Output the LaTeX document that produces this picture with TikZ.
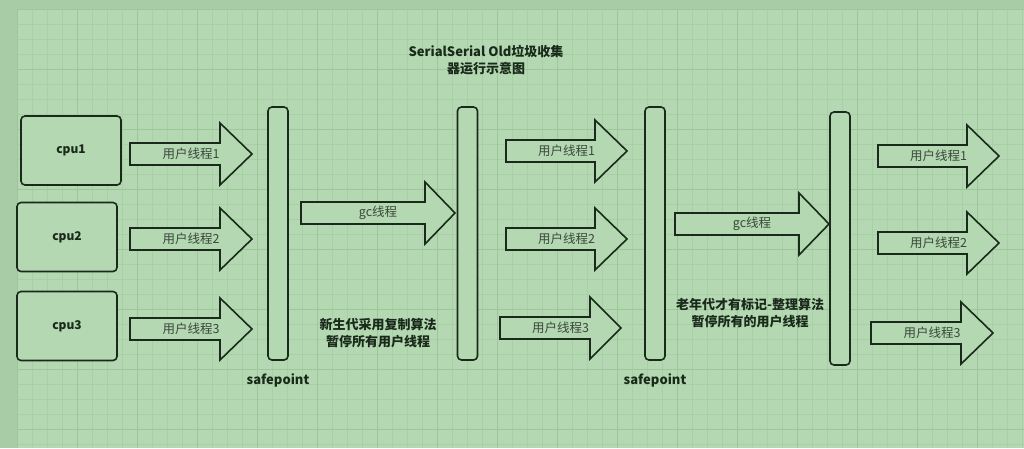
\documentclass[tikz,border=0pt]{standalone}
\usepackage{fontspec}
\setmainfont{Noto Sans CJK SC}
\usepackage{tikz}

\definecolor{outerbg}{RGB}{168,205,166}
\definecolor{bg}{RGB}{180,216,178}
\definecolor{gridminor}{RGB}{169,207,167}
\definecolor{gridmajor}{RGB}{157,198,155}
\definecolor{ink}{RGB}{26,42,26}
\definecolor{lbltext}{RGB}{58,72,58}

% block arrow: name, x start, x head, x tip, y centre, label
\newcommand{\blockarrow}[6]{%
  \draw[blk] (#2,#5-11) -- (#3,#5-11) -- (#3,#5-31) -- (#4,#5)
    -- (#3,#5+31) -- (#3,#5+11) -- (#2,#5+11) -- cycle;
  \node[lbl] (#1) at ({(#2+#4)/2},#5) {#6};}

\begin{document}
\begin{tikzpicture}[x=1pt, y=-1pt,
  blk/.style={draw=ink, line width=1.6pt, fill=bg, line join=miter},
  lbl/.style={text=lbltext, font=\fontsize{12.5}{14}\selectfont, inner sep=0pt},
  cpu/.style={draw=ink, line width=1.6pt, fill=bg, rounded corners=4pt,
    minimum width=100pt, minimum height=69pt, font=\fontsize{12}{14}\selectfont\bfseries, text=ink},
  bar/.style={draw=ink, line width=1.6pt, fill=bg, rounded corners=4pt,
    minimum width=20pt, minimum height=253pt, inner sep=0pt},
  note/.style={align=center, text=ink, font=\fontsize{13}{17}\selectfont\bfseries, inner sep=0pt}]
  \useasboundingbox (0,0) rectangle (1024,448);
  \fill[outerbg] (0,0) rectangle (1024,448);
  \fill[bg] (17,9) rectangle (1024,448);
  % grid
  \foreach \gx in {17,32,...,1024} \draw[gridminor, line width=0.7pt] (\gx,9) -- (\gx,448);
  \foreach \gy in {9,24,...,448} \draw[gridminor, line width=0.7pt] (17,\gy) -- (1024,\gy);
  \foreach \gx in {17,77,...,1024} \draw[gridmajor, line width=0.8pt] (\gx,9) -- (\gx,448);
  \foreach \gy in {9,69,...,448} \draw[gridmajor, line width=0.8pt] (17,\gy) -- (1024,\gy);

  \node[note] (title) at (486,60) {SerialSerial Old垃圾收集\\器运行示意图};

  \node[cpu] (cpu1) at (71,150.5) {cpu1};
  \node[cpu] (cpu2) at (67,237) {cpu2};
  \node[cpu] (cpu3) at (67,326) {cpu3};

  \blockarrow{ua1}{130}{220}{252}{154}{用户线程1}
  \blockarrow{ua2}{130}{220}{252}{239}{用户线程2}
  \blockarrow{ua3}{130}{220}{252}{329}{用户线程3}

  \node[bar] (sp1) at (278,233.5) {};
  \node[bar] (sp2) at (467.5,233.5) {};
  \node[bar] (sp3) at (655,233.5) {};
  \node[bar] (sp4) at (840,238.5) {};
  \node[note] (sp1lbl) at (278,380) {safepoint};
  \node[note] (sp2lbl) at (655,380) {safepoint};

  \blockarrow{gc1}{301}{425}{455}{213}{gc线程}
  \node[note] (young) at (378,333) {新生代采用复制算法\\暂停所有用户线程};

  \blockarrow{ub1}{506}{595}{627}{151}{用户线程1}
  \blockarrow{ub2}{506}{595}{627}{239}{用户线程2}
  \blockarrow{ub3}{500}{590}{621}{328}{用户线程3}

  \blockarrow{gc2}{675}{799}{829}{224}{gc线程}
  \node[note] (old) at (750,313) {老年代才有标记-整理算法\\暂停所有的用户线程};

  \blockarrow{uc1}{878}{967}{999}{156}{用户线程1}
  \blockarrow{uc2}{878}{967}{999}{243}{用户线程2}
  \blockarrow{uc3}{871}{961}{993}{333}{用户线程3}
\end{tikzpicture}
\end{document}
